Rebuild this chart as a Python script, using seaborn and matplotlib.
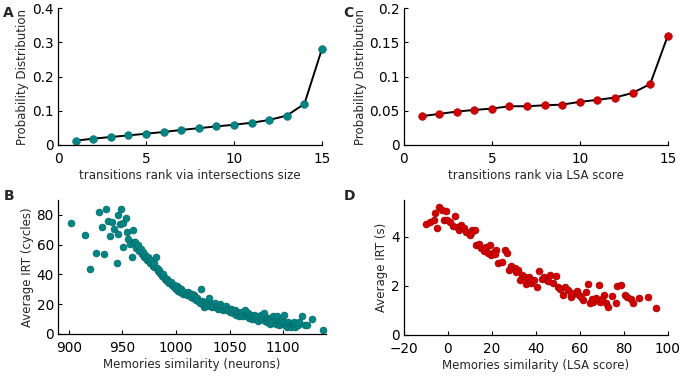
import numpy as np
import pandas as pd
import matplotlib
matplotlib.use("Agg")
import matplotlib.pyplot as plt
import seaborn as sns

# ---------------- data ----------------
rank = list(range(1, 16))
prob_intersections = [0.0127, 0.0185, 0.0234, 0.028, 0.033, 0.038, 0.044, 0.049,
                      0.0545, 0.059, 0.065, 0.073, 0.086, 0.120, 0.281]
prob_lsa = [0.042, 0.0454, 0.0488, 0.0512, 0.0532, 0.0566, 0.0566, 0.058,
            0.059, 0.063, 0.0659, 0.0693, 0.076, 0.089, 0.1595]

sim_neurons = [902, 915, 925, 920, 928.5, 935, 931, 933, 937, 940, 938.5, 942, 946, 945,
               946, 948.5, 947.5, 950.5, 953, 951, 954, 955, 957, 960, 959, 961,
               962, 963, 965, 966, 967, 968, 969, 970, 971, 972, 973, 974, 975, 976,
               977, 978, 979, 980, 980, 981,
               982, 983, 984, 985, 986, 987, 988, 989, 990, 991, 992, 993, 994, 995,
               996, 997, 998, 999, 1000, 1001,
               1002, 1003, 1004, 1005, 1006, 1007, 1008, 1009, 1010, 1011, 1012, 1013,
               1014, 1015, 1016, 1017, 1018, 1019, 1020, 1021, 1023, 1026,
               1022, 1024, 1025, 1027, 1028, 1029, 1030, 1031, 1032, 1033, 1034, 1035,
               1036, 1037, 1038, 1039, 1040, 1041, 1042, 1043, 1044, 1045, 1046, 1047,
               1048, 1049, 1050, 1051,
               1052, 1053, 1054, 1055, 1056, 1057, 1058, 1059, 1060, 1061, 1062, 1063,
               1064, 1065, 1066, 1067, 1068, 1069, 1070, 1071, 1072, 1073, 1074, 1075,
               1076, 1077, 1078, 1079, 1080, 1081, 1082,
               1083, 1084, 1085, 1086, 1087, 1088, 1089, 1090, 1091, 1092, 1093, 1094,
               1095, 1096, 1097, 1098, 1099, 1100, 1101, 1102, 1103, 1104, 1105, 1106,
               1107, 1108, 1109, 1110, 1111, 1112, 1114, 1115, 1118, 1120, 1122, 1127,
               1137]
irt_cycles = [74.7, 66.7, 54.7, 43.8, 82.2, 84, 71.6, 53.6, 75.8, 74.9, 65.6, 70.4, 67.3, 47.8,
              80, 84.2, 74, 74.4, 78, 58.4, 68.4, 64, 60.2, 70, 51.8, 61.5,
              62, 58, 60, 56, 57, 54, 55, 52, 53, 51, 50, 52, 49, 48,
              50, 47, 46, 45, 48, 52,
              44, 42, 43, 41, 40, 39, 40, 38, 37, 36, 37, 35, 34, 35,
              33, 32, 33, 31, 30, 32,
              29, 31, 28, 30, 29, 27, 28, 27, 26, 28, 27, 26,
              25, 27, 24, 26, 25, 23, 24, 22, 30, 18,
              21, 22, 20, 21, 19, 20, 22, 24, 19, 20, 18, 19,
              21, 18, 19, 17, 18, 20, 17, 18, 16, 18, 17, 19,
              16, 17, 15, 17,
              16, 14, 15, 16, 13, 15, 14, 12, 14, 13, 15, 12,
              16, 13, 12, 14, 11, 13, 12, 10, 12, 13, 11, 10,
              12, 9, 11, 13, 10, 12, 14,
              9, 10, 8, 11, 9, 7, 10, 8, 12, 9, 7, 12,
              8, 6, 9, 7, 10, 8, 13, 6, 7, 5, 8, 6,
              5, 7, 6, 8, 5, 7, 6, 8, 12, 6, 6, 10,
              3]

sim_lsa = [-9.8, -8, -6.5, -6, -5, -4, -2.8, -1, -1.9, -0.4, 3.1, 2.3, 4.2, 5.1, 6, 7.2,
           8.4, 9.9, 11.1, 12.2, 13, 14.2, 15.2, 16.3, 17.5, 18.3, 19, 19.8, 20.9, 22,
           23, 24.8, 25.9, 27.1, 27.9, 28.9, 30.4, 32, 32.7, 33.9, 35, 35.7, 37, 38,
           39.2, 40.6, 41.5, 42.6, 43.6, 44.9, 46.4, 47.9, 49.1, 50.2, 51.2, 52.2, 53.4,
           54.7, 55.8, 57, 58.8, 59.7, 61.3, 62.8, 63.9, 64.6, 66.1, 67.3, 68.9, 69.2,
           71, 71.8, 73, 74.5, 76.5, 77.1, 78.7, 80.6, 81.6, 83.1, 84.4, 86.9, 91.2, 94.7,
           1.0, 10.5, 21.5, 31, 36.5, 45.5, 56, 60.5, 65.5, 70]
irt_s = [4.54, 4.62, 4.7, 4.98, 4.37, 5.22, 5.11, 5.04, 4.68, 4.68, 4.85, 4.43, 4.38,
         4.27, 4.47, 4.34, 4.2, 4.09, 4.27, 4.27, 3.66, 3.7, 3.53, 3.43, 3.59, 3.32,
         3.66, 3.25, 3.39, 3.46, 2.92, 2.98, 3.46, 3.35, 2.64, 2.81, 2.71, 2.64, 2.26,
         2.44, 2.35, 2.07, 2.37, 2.1, 2.26, 1.97, 2.62, 2.3, 2.37, 2.26, 2.44, 2.1,
         2.41, 1.97, 1.86, 1.63, 1.94, 1.83, 1.53, 1.65, 1.8, 1.63, 1.42, 1.76, 2.07,
         1.29, 1.36, 1.49, 2.03, 1.36, 1.63, 1.32, 1.13, 1.59, 1.29, 1.99, 2.03, 1.63,
         1.53, 1.45, 1.32, 1.49, 1.53, 1.08,
         4.6, 4.15, 3.3, 2.55, 2.3, 2.2, 1.7, 1.55, 1.45, 1.45]

teal = "#008585"
red = "#D20000"

sns.set_style("ticks")
plt.rcParams.update({
    "font.family": ["DejaVu Sans"],
    "xtick.direction": "in",
    "ytick.direction": "in",
    "xtick.major.size": 3,
    "ytick.major.size": 3,
    "axes.linewidth": 0.9,
    "axes.edgecolor": "black",
    "xtick.color": "black",
    "ytick.color": "black",
})

fig = plt.figure(figsize=(6.8, 3.85), dpi=100)
axA = fig.add_axes([0.0853, 0.6234, 0.3882, 0.3556])
axC = fig.add_axes([0.594, 0.6234, 0.388, 0.3556])
axB = fig.add_axes([0.0853, 0.1325, 0.3941, 0.348])
axD = fig.add_axes([0.594, 0.130, 0.388, 0.3505])

tick_fs = 9.8
lab_fs = 8.5

dfA = pd.DataFrame({"rank": rank, "p": prob_intersections})
sns.lineplot(data=dfA, x="rank", y="p", ax=axA, color="black", lw=1.4, zorder=1)
sns.scatterplot(data=dfA, x="rank", y="p", ax=axA, color=teal, s=32,
                edgecolor="#0a5a5a", linewidth=0.3, zorder=2, clip_on=False)
axA.set_xlim(0, 15)
axA.set_ylim(0, 0.4)
axA.set_xticks([0, 5, 10, 15])
axA.set_yticks([0, 0.1, 0.2, 0.3, 0.4])
axA.set_yticklabels(["0", "0.1", "0.2", "0.3", "0.4"])
axA.set_xlabel("transitions rank via intersections size", fontsize=lab_fs)
axA.set_ylabel("Probability Distribution", fontsize=lab_fs)

dfC = pd.DataFrame({"rank": rank, "p": prob_lsa})
sns.lineplot(data=dfC, x="rank", y="p", ax=axC, color="black", lw=1.4, zorder=1)
sns.scatterplot(data=dfC, x="rank", y="p", ax=axC, color=red, s=32,
                edgecolor="#8a0000", linewidth=0.3, zorder=2, clip_on=False)
axC.set_xlim(0, 15)
axC.set_ylim(0, 0.2)
axC.set_xticks([0, 5, 10, 15])
axC.set_yticks([0, 0.05, 0.1, 0.15, 0.2])
axC.set_yticklabels(["0", "0.05", "0.1", "0.15", "0.2"])
axC.set_xlabel("transitions rank via LSA score", fontsize=lab_fs)
axC.set_ylabel("Probability Distribution", fontsize=lab_fs)

dfB = pd.DataFrame({"sim": sim_neurons, "irt": irt_cycles})
sns.scatterplot(data=dfB, x="sim", y="irt", ax=axB, color=teal, s=26,
                edgecolor="#0a5a5a", linewidth=0.3, clip_on=False)
axB.set_xlim(890, 1140)
axB.set_ylim(0, 90)
axB.set_xticks([900, 950, 1000, 1050, 1100])
axB.set_yticks([0, 20, 40, 60, 80])
axB.set_xlabel("Memories similarity (neurons)", fontsize=lab_fs)
axB.set_ylabel("Average IRT (cycles)", fontsize=lab_fs)

dfD = pd.DataFrame({"sim": sim_lsa, "irt": irt_s})
sns.scatterplot(data=dfD, x="sim", y="irt", ax=axD, color=red, s=26,
                edgecolor="#8a0000", linewidth=0.3, clip_on=False)
axD.set_xlim(-20, 100)
axD.set_ylim(0, 5.5)
axD.set_xticks([-20, 0, 20, 40, 60, 80, 100])
axD.set_xticklabels(["\u221220", "0", "20", "40", "60", "80", "100"])
axD.set_yticks([0, 2, 4])
axD.set_xlabel("Memories similarity (LSA score)", fontsize=lab_fs)
axD.set_ylabel("Average IRT (s)", fontsize=lab_fs)

for ax in (axA, axB, axC, axD):
    sns.despine(ax=ax)
    ax.tick_params(labelsize=tick_fs)
    ax.tick_params(axis="x", pad=5)
    ax.tick_params(axis="y", pad=3)
    ax.xaxis.labelpad = 2.5
    ax.yaxis.labelpad = 2

for letter, x, y in [("A", 0.005, 0.985), ("C", 0.505, 0.985),
                     ("B", 0.005, 0.51), ("D", 0.505, 0.51)]:
    fig.text(x, y, letter, fontsize=10, fontweight="bold", va="top", ha="left")

fig.savefig("out.png", dpi=100)
